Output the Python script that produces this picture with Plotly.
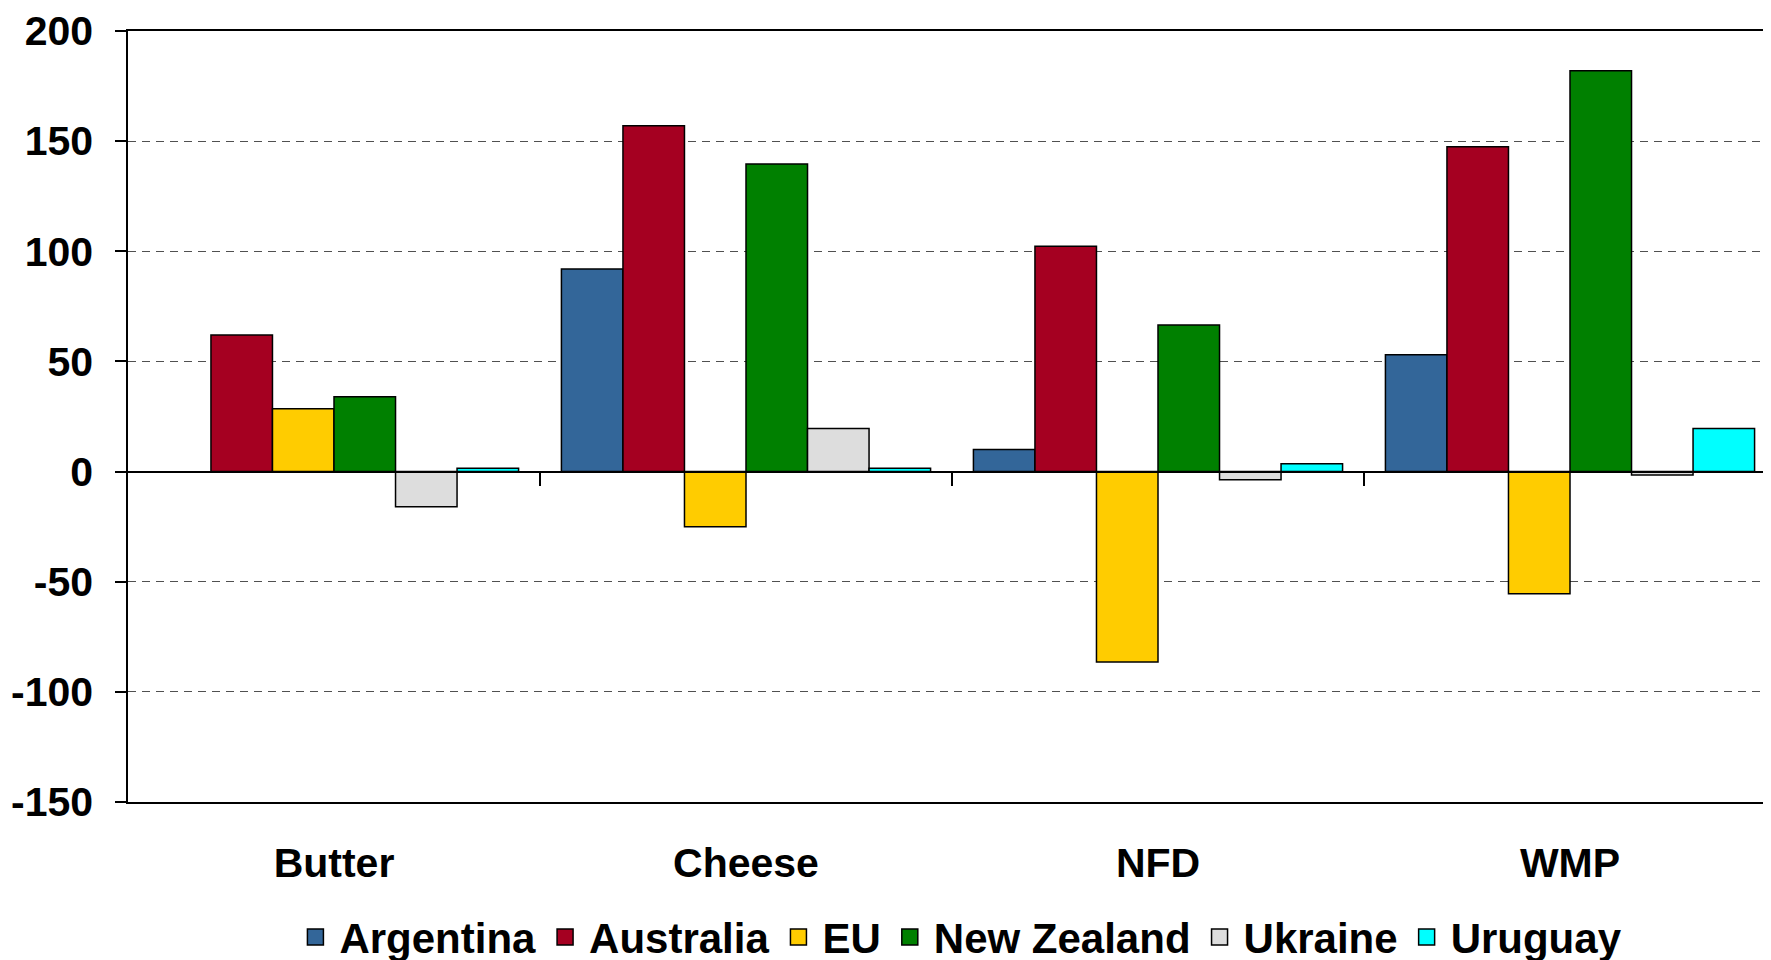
import plotly.graph_objects as go

# ---------------------------------------------------------------------------
# Data
# ---------------------------------------------------------------------------
PRODUCTS = ["Butter", "Cheese", "NFD", "WMP"]

argentina = [None, 92, 10, 53]
australia = [62, 157, 102.3, 147.5]
eu = [28.5, -25, -86.4, -55.5]
new_zealand = [34, 139.6, 66.5, 182]
ukraine = [-16, 19.5, -3.7, -1.5]
uruguay = [1.5, 1.5, 3.5, 19.5]

Y_TICKS = [-150, -100, -50, 0, 50, 100, 150, 200]
Y_TICK_LABELS = ["-150", "-100", "-50", "0", "50", "100", "150", "200"]

SERIES = [
    ("Argentina", argentina, "#336699"),
    ("Australia", australia, "#A50021"),
    ("EU", eu, "#FFCC00"),
    ("New Zealand", new_zealand, "#008000"),
    ("Ukraine", ukraine, "#DDDDDD"),
    ("Uruguay", uruguay, "#00FFFF"),
]

Y_MIN, Y_MAX = Y_TICKS[0], Y_TICKS[-1]
FONT = dict(family="Arial, 'Liberation Sans', sans-serif", size=41,
            color="black", weight="bold")

fig = go.Figure()
for name, vals, color in SERIES:
    fig.add_trace(go.Bar(
        x=PRODUCTS, y=vals, name=name, legendgroup=name, showlegend=False,
        marker=dict(color=color, line=dict(color="black", width=1.5)),
    ))
# legend entries with larger square swatches
for name, vals, color in SERIES:
    fig.add_trace(go.Scatter(
        x=[None], y=[None], name=name, legendgroup=name, mode="markers",
        marker=dict(symbol="square", size=16, color=color,
                    line=dict(color="black", width=1.5)),
        hoverinfo="skip",
    ))

# invisible helper trace so the zero-line axis gets drawn
fig.add_trace(go.Scatter(x=[], y=[], xaxis="x2", showlegend=False,
                         hoverinfo="skip"))

zero_pos = (0 - Y_MIN) / (Y_MAX - Y_MIN)

# page body has an 8px default margin, so margins are shifted to compensate
fig.update_layout(
    template="none",
    width=1771, height=960,
    paper_bgcolor="white", plot_bgcolor="white",
    font=FONT,
    margin=dict(l=120, r=3, t=23, b=166),
    barmode="group",
    bargap=0.104, bargroupgap=0,
    showlegend=True,
    legend=dict(orientation="h", x=0.5045, xanchor="center",
                yref="container", y=0.032, yanchor="middle",
                font=dict(size=42), itemwidth=38, tracegroupgap=0),
    xaxis=dict(
        automargin=False,
        showline=True, linecolor="black", linewidth=1.5, mirror=True,
        ticks="", ticklabelstandoff=24, showgrid=False, zeroline=False,
    ),
    xaxis2=dict(
        automargin=False,
        overlaying="x", anchor="free", position=zero_pos,
        range=[-0.5, 3.5], type="linear",
        showline=True, linecolor="black", linewidth=2,
        ticks="outside", ticklen=13, tickwidth=1.5, tickcolor="black",
        tickvals=[0.5, 1.5, 2.5], showticklabels=False, showgrid=False,
        zeroline=False,
    ),
    yaxis=dict(
        automargin=False, ticklabeloverflow="allow",
        range=[Y_MIN, Y_MAX],
        tickmode="array", tickvals=Y_TICKS, ticktext=Y_TICK_LABELS,
        showline=True, linecolor="black", linewidth=1.5,
        ticks="outside", ticklen=11, tickwidth=1.5, tickcolor="black",
        ticklabelstandoff=14,
        showgrid=True, gridcolor="#505050", gridwidth=1.2, griddash="8px,6px",
        zeroline=False,
    ),
)

fig.write_html("out.html")
